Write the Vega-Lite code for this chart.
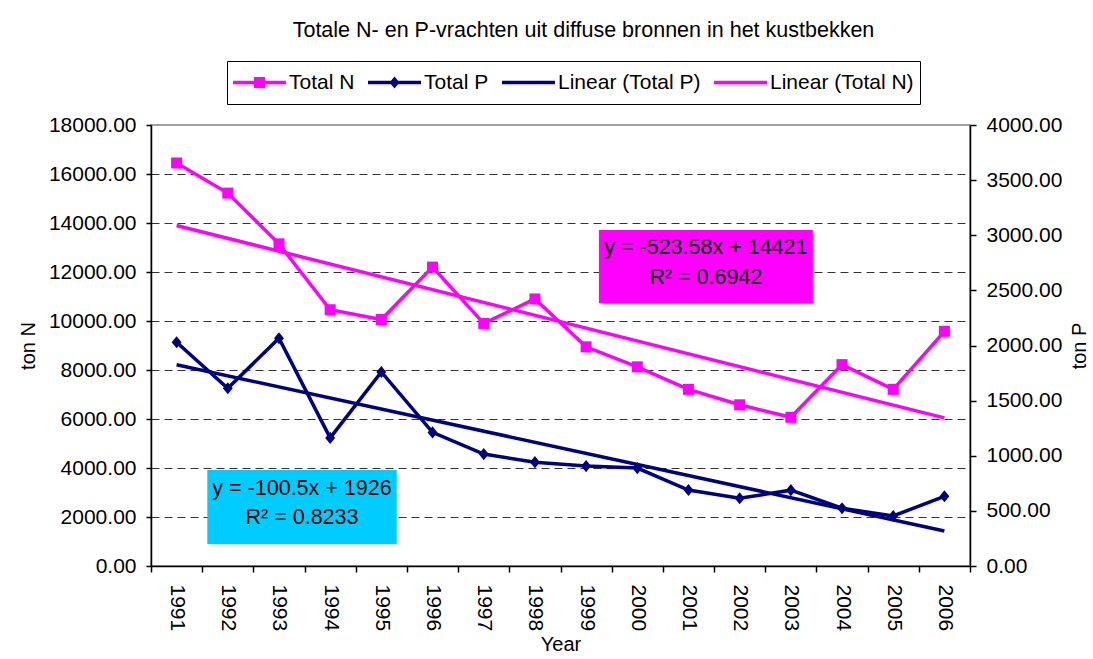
{
  "$schema": "https://vega.github.io/schema/vega-lite/v6.json",
  "width": 819,
  "height": 441,
  "autosize": {"type": "none"},
  "padding": {"left": 151, "top": 125, "right": 123, "bottom": 93},
  "background": "white",
  "config": {
    "font": "Liberation Sans",
    "view": {"stroke": "#808080", "strokeWidth": 1.5},
    "axis": {
      "labelFont": "Liberation Sans", "labelFontSize": 21, "labelColor": "#000",
      "titleFont": "Liberation Sans", "titleFontSize": 20, "titleFontWeight": "normal", "titleColor": "#000",
      "domainColor": "#000", "tickColor": "#000", "domainWidth": 1.5, "tickWidth": 1.5
    },
    "legend": {
      "orient": "none", "legendX": 76, "legendY": -64, "direction": "horizontal",
      "strokeColor": "#000", "strokeWidth": 1, "padding": 6, "fillColor": "white",
      "labelFont": "Liberation Sans", "labelFontSize": 21, "labelColor": "#000",
      "symbolSize": 961, "symbolStrokeWidth": 0, "symbolOffset": 11, "labelOffset": 14,
      "columnPadding": 12, "symbolOpacity": 1
    }
  },
  "title": {
    "text": "Totale N- en P-vrachten uit diffuse bronnen in het kustbekken",
    "font": "Liberation Sans", "fontSize": 21.5, "fontWeight": "normal", "color": "#000",
    "anchor": "middle", "frame": "group", "offset": 19, "dx": 23
  },
  "datasets": {
    "loads": [
      {"year": 1991, "n": 16450, "p": 2030},
      {"year": 1992, "n": 15220, "p": 1612},
      {"year": 1993, "n": 13150, "p": 2066},
      {"year": 1994, "n": 10460, "p": 1162},
      {"year": 1995, "n": 10060, "p": 1760},
      {"year": 1996, "n": 12200, "p": 1212},
      {"year": 1997, "n": 9900, "p": 1015},
      {"year": 1998, "n": 10900, "p": 942},
      {"year": 1999, "n": 8945, "p": 906},
      {"year": 2000, "n": 8130, "p": 888},
      {"year": 2001, "n": 7210, "p": 689},
      {"year": 2002, "n": 6580, "p": 614},
      {"year": 2003, "n": 6070, "p": 688},
      {"year": 2004, "n": 8220, "p": 524},
      {"year": 2005, "n": 7210, "p": 454},
      {"year": 2006, "n": 9580, "p": 632}
    ],
    "trend": [
      {"year": 1991, "n": 13897, "p": 1825.5},
      {"year": 2006, "n": 6044, "p": 318}
    ],
    "boxes": [
      {"year": 1999.25, "year2": 2003.43, "n": 13714, "n2": 10722, "box": "N"},
      {"year": 1991.6, "year2": 1995.3, "n": 3918, "n2": 898, "box": "P"}
    ],
    "notes": [
      {"year": 2001.34, "n": 12967, "text": "y = -523.58x + 14421"},
      {"year": 2001.34, "n": 11743, "text": "R² = 0.6942"},
      {"year": 1993.45, "n": 3131, "text": "y = -100.5x + 1926"},
      {"year": 1993.45, "n": 1947, "text": "R² = 0.8233"}
    ],
    "series": [
      {"series": "Total N"},
      {"series": "Total P"},
      {"series": "Linear (Total P)"},
      {"series": "Linear (Total N)"}
    ]
  },
  "encoding": {
    "x": {
      "field": "year", "type": "quantitative",
      "scale": {"domain": [1990.5, 2006.5], "nice": false, "zero": false},
      "axis": {
        "title": "Year", "grid": false,
        "values": [1990.5, 1991.5, 1992.5, 1993.5, 1994.5, 1995.5, 1996.5, 1997.5, 1998.5, 1999.5, 2000.5, 2001.5, 2002.5, 2003.5, 2004.5, 2005.5, 2006.5],
        "labelExpr": "datum.value > 2006 ? '' : format(datum.value + 0.5, 'd')",
        "labelOffset": 25.6, "labelAngle": 90, "labelAlign": "left", "labelBaseline": "middle",
        "labelPadding": 12, "tickSize": 6, "labelFlush": false, "labelOverlap": false, "labelBound": false,
        "titlePadding": 4,
        "encode": {"ticks": {"update": {"y": {"value": -6}}}}
      }
    }
  },
  "layer": [
    {
      "encoding": {
        "y": {
          "field": "n", "type": "quantitative",
          "scale": {"domain": [0, 18000], "nice": false, "zero": true},
          "axis": {
            "orient": "left", "title": "ton N",
            "values": [0, 2000, 4000, 6000, 8000, 10000, 12000, 14000, 16000, 18000],
            "format": ".2f", "grid": true, "gridDash": [8, 5], "gridColor": "#333", "gridWidth": 1,
            "gridOpacity": {"condition": {"test": "datum.value == 0 || datum.value == 18000", "value": 0}, "value": 1},
            "tickSize": 5, "labelPadding": 10, "titlePadding": 10
          }
        }
      },
      "layer": [
        {
          "data": {"name": "boxes"},
          "mark": {"type": "rect"},
          "encoding": {
            "x2": {"field": "year2"},
            "y2": {"field": "n2"},
            "fill": {"field": "box", "type": "nominal", "scale": {"domain": ["N", "P"], "range": ["#FF00FF", "#00CCFF"]}, "legend": null}
          }
        },
        {
          "data": {"name": "notes"},
          "mark": {"type": "text", "font": "Liberation Sans", "fontSize": 21.5, "color": "#000", "align": "center", "baseline": "middle"},
          "encoding": {"text": {"field": "text"}}
        },
        {
          "data": {"name": "trend"},
          "mark": {"type": "line", "color": "#FF00FF", "strokeWidth": 3.5}
        },
        {
          "data": {"name": "loads"},
          "mark": {"type": "line", "color": "#FF00FF", "strokeWidth": 3.5}
        },
        {
          "data": {"name": "loads"},
          "mark": {"type": "point", "shape": "square", "filled": true, "size": 121, "color": "#FF00FF", "opacity": 1}
        },
        {
          "data": {"name": "series"},
          "mark": {"type": "point", "filled": true, "opacity": 1},
          "encoding": {
            "color": {
              "field": "series", "type": "nominal",
              "scale": {"domain": ["Total N", "Total P", "Linear (Total P)", "Linear (Total N)"], "range": ["#FF00FF", "#000080", "#000080", "#FF00FF"]},
              "legend": {"title": null}
            },
            "shape": {
              "field": "series", "type": "nominal",
              "scale": {
                "domain": ["Total N", "Total P", "Linear (Total P)", "Linear (Total N)"],
                "range": [
                  "M0,-1L0,1M-1.71,-0.11H1.71V0.11H-1.71ZM-0.355,-0.355H0.355V0.355H-0.355Z",
                  "M0,-1L0,1M-1.71,-0.11H1.71V0.11H-1.71ZM0,-0.39L0.32,0L0,0.39L-0.32,0Z",
                  "M0,-1L0,1M-1.71,-0.11H1.71V0.11H-1.71Z",
                  "M0,-1L0,1M-1.71,-0.11H1.71V0.11H-1.71Z"
                ]
              },
              "legend": {"title": null}
            }
          }
        }
      ]
    },
    {
      "encoding": {
        "y": {
          "field": "p", "type": "quantitative",
          "scale": {"domain": [0, 4000], "nice": false, "zero": true},
          "axis": {
            "orient": "right", "title": "ton P", "titleAngle": 270,
            "values": [0, 500, 1000, 1500, 2000, 2500, 3000, 3500, 4000],
            "format": ".2f", "grid": false, "tickSize": 6, "labelPadding": 10, "titlePadding": 28,
            "encode": {"ticks": {"update": {"x": {"value": -6}}}}
          }
        }
      },
      "layer": [
        {
          "data": {"name": "trend"},
          "mark": {"type": "line", "color": "#000080", "strokeWidth": 3.5}
        },
        {
          "data": {"name": "loads"},
          "mark": {"type": "line", "color": "#000080", "strokeWidth": 3.5}
        },
        {
          "data": {"name": "loads"},
          "mark": {"type": "point", "shape": "M0,-1.1L0.9,0L0,1.1L-0.9,0Z", "filled": true, "size": 121, "color": "#000080", "opacity": 1}
        }
      ]
    }
  ],
  "resolve": {"scale": {"y": "independent"}, "axis": {"y": "independent"}}
}
